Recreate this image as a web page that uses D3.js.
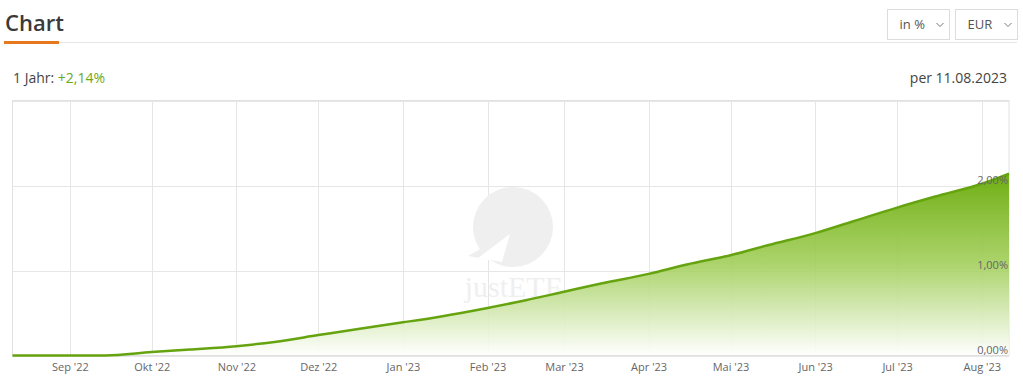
<!DOCTYPE html>
<html>
<head>
<meta charset="utf-8">
<script src="https://cdn.jsdelivr.net/npm/d3@7"></script>
<style>
  body { margin: 0; background: #fff; font-family: "Open Sans", sans-serif; }
  svg { display: block; }
</style>
</head>
<body>
<script>
// chart data
var dates = ["2022-08-11", "2022-09-01", "2022-09-14", "2022-10-01", "2022-10-15", "2022-11-01",
  "2022-11-15", "2022-12-01", "2022-12-15", "2023-01-01", "2023-01-15", "2023-02-01",
  "2023-02-15", "2023-03-01", "2023-03-15", "2023-04-01", "2023-04-15", "2023-05-01",
  "2023-05-15", "2023-06-01", "2023-06-15", "2023-07-01", "2023-07-15", "2023-08-01", "2023-08-11"];
var values = [0, 0, 0, 0.04, 0.07, 0.11, 0.16, 0.24, 0.31, 0.39, 0.46, 0.56,
  0.65, 0.75, 0.85, 0.96, 1.07, 1.18, 1.30, 1.44, 1.58, 1.74, 1.87, 2.02, 2.14];
var monthLabels = ["Sep '22", "Okt '22", "Nov '22", "Dez '22", "Jan '23", "Feb '23",
  "Mar '23", "Apr '23", "Mai '23", "Jun '23", "Jul '23", "Aug '23"];
var yTicks = [0, 1, 2];
var yTickLabels = ["0,00%", "1,00%", "2,00%"];

var width = 1023, height = 382;
var parseDate = d3.timeParse("%Y-%m-%d");
var data = dates.map(function (d, i) { return { date: parseDate(d), value: values[i] }; });

var svg = d3.select("body").append("svg").attr("width", width).attr("height", height);

// header
svg.append("text").attr("x", 5).attr("y", 31).attr("font-size", 22).attr("font-weight", 600)
  .attr("fill", "#3a3a3a").text("Chart");
svg.append("line").attr("x1", 59).attr("x2", 1017).attr("y1", 42.5).attr("y2", 42.5)
  .attr("stroke", "#e6e6e6");
svg.append("rect").attr("x", 4).attr("y", 41).attr("width", 55).attr("height", 3).attr("fill", "#e8781e");

// select boxes
[{ x: 887.5, w: 62, label: "in %" }, { x: 955.5, w: 62, label: "EUR" }].forEach(function (b) {
  svg.append("rect").attr("x", b.x).attr("y", 9.5).attr("width", b.w).attr("height", 30)
    .attr("fill", "#fff").attr("stroke", "#dcdcdc");
  svg.append("text").attr("x", b.x + 12).attr("y", 29).attr("font-size", 13).attr("fill", "#555").text(b.label);
  svg.append("path").attr("d", "M" + (b.x + b.w - 13) + ",23 l3.5,3.5 l3.5,-3.5")
    .attr("fill", "none").attr("stroke", "#777").attr("stroke-width", 1);
});

// subheader
var sub = svg.append("text").attr("x", 13).attr("y", 83).attr("font-size", 14).attr("fill", "#444");
sub.append("tspan").text("1 Jahr: ");
sub.append("tspan").attr("fill", "#6aa81c").text("+2,14%");
svg.append("text").attr("x", 1007).attr("y", 83).attr("text-anchor", "end").attr("font-size", 14)
  .attr("fill", "#444").text("per 11.08.2023");

// scales
var margin = { left: 12.5, right: 1009, top: 100.5, bottom: 355.5 };
var x = d3.scaleTime().domain([parseDate("2022-08-11"), parseDate("2023-08-11")]).range([margin.left, margin.right]);
var y = d3.scaleLinear().domain([0, 3]).range([margin.bottom, margin.top]);

var chartGroup = svg.append("g");

// gridlines
var monthTicks = d3.timeMonth.range(parseDate("2022-09-01"), parseDate("2023-08-02"));
chartGroup.selectAll(".vgrid").data(monthTicks).enter().append("line")
  .attr("x1", function (d) { return Math.round(x(d)) + 0.5; })
  .attr("x2", function (d) { return Math.round(x(d)) + 0.5; })
  .attr("y1", margin.top).attr("y2", margin.bottom)
  .attr("stroke", "#e6e6e6");
chartGroup.selectAll(".hgrid").data([1, 2, 3]).enter().append("line")
  .attr("x1", margin.left).attr("x2", margin.right)
  .attr("y1", function (d) { return Math.round(y(d)) + 0.5; })
  .attr("y2", function (d) { return Math.round(y(d)) + 0.5; })
  .attr("stroke", "#e6e6e6");
chartGroup.append("rect").attr("x", margin.left).attr("y", margin.top)
  .attr("width", margin.right - margin.left).attr("height", margin.bottom - margin.top)
  .attr("fill", "none").attr("stroke", "#e2e2e2");

// watermark
var wm = chartGroup.append("g");
wm.append("circle").attr("cx", 513).attr("cy", 227).attr("r", 40).attr("fill", "#efefef");
wm.append("path").attr("d", "M468,256 L513,230 L501,262 Z").attr("fill", "#efefef");
wm.append("path").attr("d", "M478,258 L510,234 L502,262 Z").attr("fill", "#fff");
wm.append("text").attr("x", 513).attr("y", 297).attr("text-anchor", "middle")
  .attr("font-family", "'Liberation Serif', serif").attr("font-size", 30)
  .attr("fill", "#efefef").text("justETF");

// area with gradient
var defs = svg.append("defs");
var grad = defs.append("linearGradient").attr("id", "areaGrad")
  .attr("gradientUnits", "userSpaceOnUse")
  .attr("x1", 0).attr("x2", 0).attr("y1", y(2.14)).attr("y2", y(0));
grad.append("stop").attr("offset", "0%").attr("stop-color", "#6eae12").attr("stop-opacity", 1);
grad.append("stop").attr("offset", "50%").attr("stop-color", "#a3cf5c").attr("stop-opacity", 0.9);
grad.append("stop").attr("offset", "100%").attr("stop-color", "#ffffff").attr("stop-opacity", 0.9);

var area = d3.area().curve(d3.curveMonotoneX).x(function (d) { return x(d.date); })
  .y0(y(0)).y1(function (d) { return y(d.value); });
var line = d3.line().curve(d3.curveMonotoneX).x(function (d) { return x(d.date); })
  .y(function (d) { return y(d.value); });

chartGroup.append("path").datum(data).attr("d", area).attr("fill", "url(#areaGrad)");
chartGroup.append("line").attr("x1", margin.left).attr("x2", margin.right)
  .attr("y1", margin.bottom + 0.5).attr("y2", margin.bottom + 0.5).attr("stroke", "#cfcfcf");
chartGroup.append("path").datum(data).attr("d", line).attr("fill", "none")
  .attr("stroke", "#65a30f").attr("stroke-width", 2.5).attr("stroke-linejoin", "round");

// y labels
chartGroup.selectAll(".ylab").data(yTicks).enter().append("text")
  .attr("x", 1008).attr("y", function (d) { return y(d) - 2; })
  .attr("text-anchor", "end").attr("font-size", 11).attr("fill", "#666")
  .text(function (d, i) { return yTickLabels[i]; });

// x axis
var xAxis = d3.axisBottom(x).tickValues(monthTicks).tickSize(0).tickPadding(0)
  .tickFormat(function (d, i) { return monthLabels[i]; });
var gx = svg.append("g").attr("transform", "translate(0," + (margin.bottom + 8) + ")").call(xAxis);
gx.select(".domain").remove();
gx.selectAll("text").attr("font-family", "'Open Sans', sans-serif").attr("font-size", 11).attr("fill", "#666");
</script>
</body>
</html>
